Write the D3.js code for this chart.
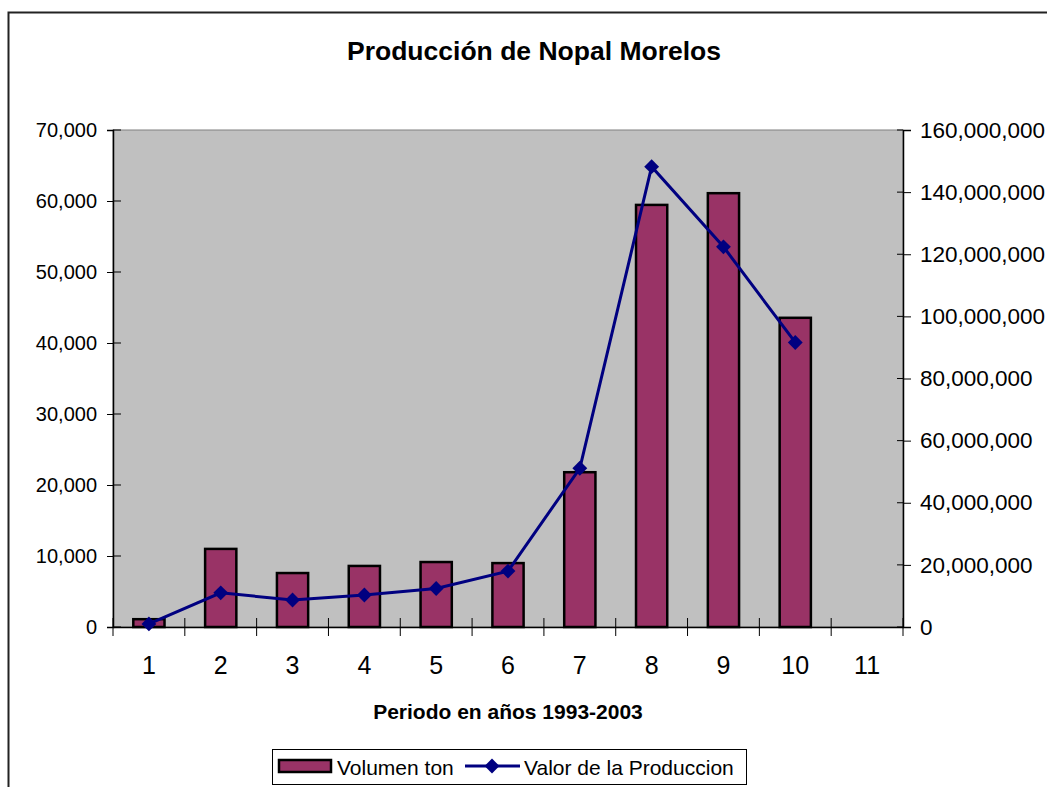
<!DOCTYPE html>
<html><head><meta charset="utf-8">
<script src="https://cdn.jsdelivr.net/npm/d3@7"></script>
<style>
body{margin:0;background:#fff;}
text{font-family:"Liberation Sans",Arial,sans-serif;}
</style></head>
<body>
<svg id="chart" width="1047" height="787"></svg>
<script>
const categories = ["1","2","3","4","5","6","7","8","9","10","11"];
const volumenTon = [1100, 11000, 7600, 8600, 9150, 9000, 21800, 59450, 61100, 43550, null];
const valorProduccion = [1000000, 11000000, 8700000, 10300000, 12400000, 18000000, 51100000, 148200000, 122400000, 91600000, null];
const leftTicks = [0,10000,20000,30000,40000,50000,60000,70000];
const rightTicks = [0,20000000,40000000,60000000,80000000,100000000,120000000,140000000,160000000];
const title = "Producción de Nopal Morelos";
const xTitle = "Periodo en años 1993-2003";
const seriesNames = ["Volumen ton","Valor de la Produccion"];

const svg = d3.select("#chart");
const L=113, R=903, T=130, B=627;
const fmt = d3.format(",");

// outer border
svg.append("rect").attr("x",8.5).attr("y",12.5).attr("width",1100).attr("height",900)
  .attr("fill","#fff").attr("stroke","#222").attr("stroke-width",2);

svg.append("text").attr("x",534).attr("y",60).attr("text-anchor","middle")
  .attr("font-size",26.5).attr("font-weight","bold").text(title);

const x = d3.scaleBand().domain(categories).range([L,R]).padding(0);
const yL = d3.scaleLinear().domain([0,70000]).range([B,T]);
const yR = d3.scaleLinear().domain([0,160000000]).range([B,T]);

// plot area
svg.append("rect").attr("x",L).attr("y",T).attr("width",R-L).attr("height",B-T)
  .attr("fill","#C0C0C0").attr("stroke","#808080").attr("stroke-width",1);

// bars
const bw = x.bandwidth()/2.3;
svg.append("g").selectAll("rect").data(categories.map((c,i)=>({c,v:volumenTon[i]})).filter(d=>d.v!=null))
  .join("rect")
  .attr("x",d=>x(d.c)+x.bandwidth()/2-bw/2)
  .attr("y",d=>yL(d.v))
  .attr("width",bw)
  .attr("height",d=>yL(0)-yL(d.v))
  .attr("fill","#993366").attr("stroke","#000").attr("stroke-width",2.5);

// axes
const axL = svg.append("g").attr("transform",`translate(${L},0)`)
  .call(d3.axisLeft(yL).tickValues(leftTicks).tickFormat(fmt).tickSize(6).tickPadding(10));
const axR = svg.append("g").attr("transform",`translate(${R},0)`)
  .call(d3.axisRight(yR).tickValues(rightTicks).tickFormat(fmt).tickSize(8).tickPadding(9));
const axB = svg.append("g").attr("transform",`translate(0,${B})`)
  .call(d3.axisBottom(x).tickSize(0).tickPadding(30));
[axL,axR,axB].forEach(a=>{
  a.select(".domain").attr("stroke","#000").attr("stroke-width",1.5);
  a.selectAll("text").attr("font-size",20).attr("fill","#000").attr("font-family","Liberation Sans, Arial, sans-serif");
  a.selectAll(".tick line").attr("stroke","#000");
});
axR.selectAll("text").attr("font-size",22.5);
axB.selectAll("text").attr("font-size",25).attr("dy","0.68em");
// inner halves of crossing ticks
svg.append("g").selectAll("line").data(leftTicks).join("line")
  .attr("x1",L).attr("x2",L+8).attr("y1",d=>yL(d)).attr("y2",d=>yL(d)).attr("stroke","#000");
svg.append("g").selectAll("line").data(rightTicks).join("line")
  .attr("x1",R-6).attr("x2",R).attr("y1",d=>yR(d)).attr("y2",d=>yR(d)).attr("stroke","#000");
// category boundary ticks
const bounds = categories.map(c=>x(c)).concat([x(categories[categories.length-1])+x.bandwidth()]);
svg.append("g").selectAll("line").data(bounds).join("line")
  .attr("x1",d=>d).attr("x2",d=>d).attr("y1",B-9).attr("y2",B+9).attr("stroke","#000");

// line
const pts = categories.map((c,i)=>({c,v:valorProduccion[i]})).filter(d=>d.v!=null);
const line = d3.line().x(d=>x(d.c)+x.bandwidth()/2).y(d=>yR(d.v));
svg.append("path").datum(pts).attr("d",line).attr("fill","none").attr("stroke","#000080").attr("stroke-width",3);
const diamond = d3.symbol().type(d3.symbolSquare).size(110);
svg.append("g").selectAll("path").data(pts).join("path")
  .attr("d",diamond)
  .attr("transform",d=>`translate(${x(d.c)+x.bandwidth()/2},${yR(d.v)}) rotate(45)`)
  .attr("fill","#000080");

// x title
svg.append("text").attr("x",508).attr("y",719).attr("text-anchor","middle")
  .attr("font-size",21).attr("font-weight","bold").text(xTitle);

// legend
const lg = svg.append("g");
lg.append("rect").attr("x",272.5).attr("y",749.5).attr("width",474).attr("height",35)
  .attr("fill","#fff").attr("stroke","#000").attr("stroke-width",1);
lg.append("rect").attr("x",279).attr("y",760).attr("width",52).attr("height",12)
  .attr("fill","#993366").attr("stroke","#000").attr("stroke-width",2.5);
lg.append("text").attr("x",337).attr("y",775).attr("font-size",21).text(seriesNames[0]);
lg.append("line").attr("x1",465).attr("x2",520).attr("y1",766).attr("y2",766).attr("stroke","#000080").attr("stroke-width",3);
lg.append("path").attr("d",diamond).attr("transform","translate(492,766) rotate(45)").attr("fill","#000080");
lg.append("text").attr("x",524).attr("y",775).attr("font-size",21).text(seriesNames[1]);
</script>
</body></html>
